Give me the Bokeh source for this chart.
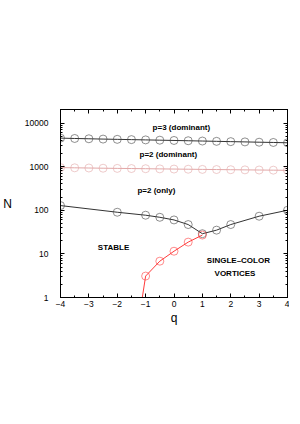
from bokeh.plotting import figure
from bokeh.models import (Range1d, FixedTicker, NumeralTickFormatter, LinearAxis, LogAxis, Label)
from bokeh.embed import file_html
from bokeh.resources import INLINE

# ---- data ----
q_p3 = [-4, -3.5, -3, -2.5, -2, -1.5, -1, -0.5, 0, 0.5, 1, 1.5, 2, 2.5, 3, 3.5, 4]
N_p3 = [4500, 4420, 4350, 4280, 4220, 4160, 4100, 4040, 3980, 3920, 3860, 3800, 3740, 3690, 3630, 3580, 3520]

q_p2d = [-4, -3.5, -3, -2.5, -2, -1.5, -1, -0.5, 0, 0.5, 1, 1.5, 2, 2.5, 3, 3.5, 4]
N_p2d = [950, 940, 930, 920, 912, 904, 896, 888, 880, 872, 864, 857, 850, 843, 836, 830, 824]

q_p2o = [-4, -2, -1, -0.5, 0, 0.5, 1, 1.5, 2, 3, 4]
N_p2o = [128, 90, 77, 69, 60, 47, 29, 35, 47, 73, 100]

q_red = [-1, -0.5, 0, 0.5, 1]
N_red = [3.1, 6.8, 11.5, 18.6, 27]
q_red_line = [-1.2, -1, -0.5, 0, 0.5, 1]
N_red_line = [0.45, 3.1, 6.8, 11.5, 18.6, 27]

x_ticks = [-4, -3, -2, -1, 0, 1, 2, 3, 4]
x_tick_labels = ["\u22124", "\u22123", "\u22122", "\u22121", "0", "1", "2", "3", "4"]
y_ticks = [1, 10, 100, 1000, 10000]

texts = ["p=3 (dominant)", "p=2 (dominant)", "p=2 (only)", "STABLE", "SINGLE\u2013COLOR", "VORTICES"]
text_q = [0.26, -0.2, -0.62, -2.13, 2.27, 2.15]
text_N = [7840, 1910, 288, 14.1, 6.98, 3.46]

FONT = "Liberation Sans"

p = figure(frame_width=227, frame_height=188, x_range=Range1d(-4, 4), y_range=Range1d(1, 20400),
           y_axis_type="log", output_backend="svg", toolbar_location=None,
           min_border_left=54, min_border_right=2, min_border_top=109, min_border_bottom=33)
p.background_fill_color = "white"
p.border_fill_color = "white"
p.outline_line_color = "black"
p.outline_line_width = 1
p.xgrid.visible = False
p.ygrid.visible = False

minor_x = [v / 2 for v in range(-8, 9)]
minor_y = [m * 10 ** d for d in range(0, 5) for m in range(2, 10)]

xt = FixedTicker(ticks=x_ticks, minor_ticks=minor_x)
yt = FixedTicker(ticks=y_ticks, minor_ticks=minor_y)

xa = p.xaxis[0]
xa.ticker = xt
xa.major_label_overrides = {t: l for t, l in zip(x_ticks, x_tick_labels)}
xa.axis_label = "q"
ya = p.yaxis[0]
ya.ticker = yt
ya.formatter = NumeralTickFormatter(format="0")
ya.axis_label = "N"
ya.axis_label_orientation = "horizontal"

for ax in (xa, ya):
    ax.major_tick_in = 4
    ax.major_tick_out = 0
    ax.minor_tick_in = 2
    ax.minor_tick_out = 0
    ax.axis_line_color = "black"
    ax.major_tick_line_color = "black"
    ax.minor_tick_line_color = "black"
    ax.major_label_text_font = FONT
    ax.major_label_text_font_size = "8.5px"
    ax.major_label_text_color = "black"
    ax.axis_label_text_font = FONT
    ax.axis_label_text_font_size = "12px"
    ax.axis_label_text_font_style = "normal"
    ax.axis_label_text_color = "black"

xa.major_label_standoff = 3
xa.axis_label_standoff = 1
ya.major_label_standoff = 12
ya.axis_label_standoff = 10

top = LinearAxis(ticker=FixedTicker(ticks=x_ticks, minor_ticks=minor_x),
                 formatter=NumeralTickFormatter(format="0"))
right = LogAxis(ticker=FixedTicker(ticks=y_ticks, minor_ticks=minor_y),
                formatter=NumeralTickFormatter(format="0"))
for ax in (top, right):
    ax.major_tick_in = 4
    ax.major_tick_out = 0
    ax.minor_tick_in = 2
    ax.minor_tick_out = 0
    ax.major_label_text_font_size = "1px"
    ax.major_label_text_alpha = 0
    ax.major_label_standoff = 0
    ax.axis_label_standoff = 0
    ax.axis_line_color = "black"
p.add_layout(top, "above")
p.add_layout(right, "right")

dark = "#333333"
marker_dark = "#444444"
pink = "#e2a8a8"
red = "#ff3c3c"

p.line(q_p3, N_p3, line_color=dark, line_width=1)
p.scatter(q_p3, N_p3, size=8, fill_color=None, line_color=marker_dark, line_width=0.6)

p.line(q_p2d, N_p2d, line_color=pink, line_width=1)
p.scatter(q_p2d, N_p2d, size=8, fill_color=None, line_color=pink, line_width=0.6)

p.line(q_p2o, N_p2o, line_color=dark, line_width=1)
p.scatter(q_p2o, N_p2o, size=8, fill_color=None, line_color=marker_dark, line_width=0.6)

p.line(q_red_line, N_red_line, line_color=red, line_width=1)
p.scatter(q_red, N_red, size=8, fill_color=None, line_color=red, line_width=0.6)

for t, xq, yn in zip(texts, text_q, text_N):
    p.add_layout(Label(x=xq, y=yn, text=t, text_font=FONT, text_font_size="8px",
                       text_font_style="bold", text_align="center", text_baseline="middle",
                       text_color="black"))

open("out.html", "w").write(file_html(p, INLINE))
